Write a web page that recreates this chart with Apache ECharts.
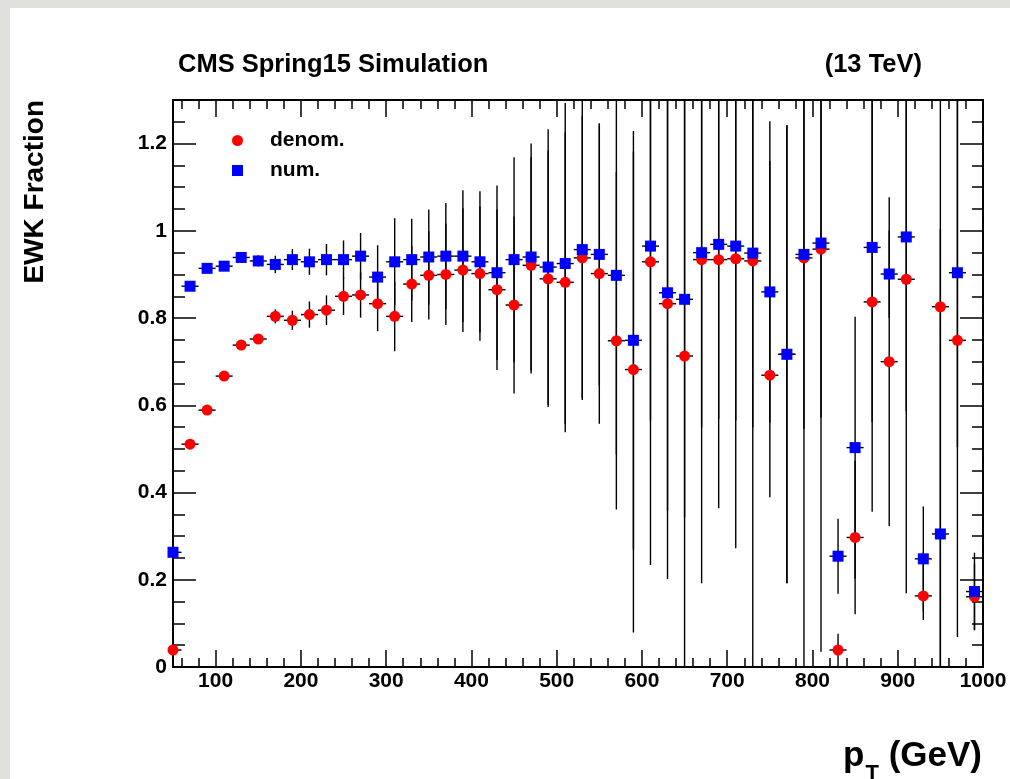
<!DOCTYPE html>
<html><head><meta charset="utf-8">
<script src="https://cdn.jsdelivr.net/npm/echarts@6/dist/echarts.min.js"></script>
<style>
html,body{margin:0;padding:0;background:#e0e0dc;width:1010px;height:779px;overflow:hidden;}
#chart{position:absolute;left:10px;top:8px;width:1000px;height:771px;background:#ffffff;}
</style></head><body><div id="chart"></div>
<script>
const ptBins = [50,70,90,110,130,150,170,190,210,230,250,270,290,310,330,350,370,390,410,430,450,470,490,510,530,550,570,590,610,630,650,670,690,710,730,750,770,790,810,830,850,870,890,910,930,950,970,990];
const denomVals = [0.039,0.511,0.589,0.667,0.738,0.752,0.804,0.795,0.808,0.818,
 0.850,0.853,0.833,0.804,0.878,0.898,0.900,0.910,0.902,0.865,
 0.830,0.921,0.890,0.882,0.938,0.902,0.748,0.682,0.929,0.833,
 0.713,0.934,0.934,0.936,0.931,0.669,0.717,0.938,0.958,0.039,
 0.297,0.837,0.700,0.889,0.163,0.826,0.749,0.161];
const denomErrLo = [0.005,0.004,0.005,0.006,0.007,0.010,0.016,0.022,0.030,0.034,
 0.043,0.052,0.063,0.080,0.087,0.101,0.116,0.142,0.154,0.184,
 0.203,0.248,0.294,0.344,0.326,0.344,0.387,0.603,0.695,0.631,
 0.720,0.742,0.570,0.664,0.940,0.280,0.525,0.950,0.923,0.040,
 0.176,0.481,0.377,0.720,0.055,0.830,0.680,0.076];
const denomErrHi = [0.005,0.004,0.005,0.006,0.007,0.010,0.016,0.022,0.030,0.034,
 0.043,0.052,0.063,0.080,0.087,0.101,0.116,0.142,0.154,0.184,
 0.203,0.248,0.294,0.344,0.326,0.344,0.387,0.500,0.400,0.500,
 0.600,0.400,0.400,0.400,0.400,0.582,0.525,0.400,0.400,0.037,
 0.176,0.500,0.377,0.420,0.100,0.500,0.560,0.076];
const numVals = [0.263,0.873,0.914,0.919,0.939,0.931,0.923,0.934,0.929,0.934,
 0.934,0.942,0.894,0.929,0.934,0.940,0.942,0.942,0.929,0.904,
 0.934,0.940,0.917,0.925,0.957,0.946,0.898,0.749,0.965,0.858,
 0.843,0.950,0.969,0.965,0.949,0.860,0.717,0.946,0.972,0.254,
 0.503,0.962,0.901,0.986,0.248,0.305,0.904,0.173];
const numErrLo = [0.005,0.004,0.004,0.004,0.005,0.013,0.020,0.024,0.030,0.036,
 0.044,0.053,0.073,0.100,0.094,0.109,0.122,0.151,0.162,0.200,
 0.235,0.260,0.316,0.368,0.340,0.300,0.410,0.480,0.400,0.500,
 0.500,0.400,0.400,0.400,0.400,0.300,0.525,0.400,0.400,0.086,
 0.300,0.400,0.100,0.400,0.120,0.310,0.400,0.089];
const numErrHi = [0.005,0.004,0.004,0.004,0.005,0.013,0.020,0.024,0.030,0.036,
 0.044,0.053,0.073,0.100,0.094,0.109,0.122,0.151,0.162,0.200,
 0.235,0.260,0.316,0.368,0.360,0.300,0.410,0.480,0.400,0.500,
 0.500,0.400,0.400,0.400,0.400,0.300,0.525,0.400,0.400,0.086,
 0.300,0.400,0.100,0.400,0.120,0.700,0.400,0.089];
const binHalfWidth = 10;
const xMajorTicks = [100,200,300,400,500,600,700,800,900,1000];
const xMinorTicks = [60,80,100,120,140,160,180,200,220,240,260,280,300,320,340,360,380,400,420,440,460,480,500,520,540,560,580,600,620,640,660,680,700,720,740,760,780,800,820,840,860,880,900,920,940,960,980,1000];
const yMajorTicks = [0,0.2,0.4,0.6,0.8,1.0,1.2];
const yMinorTicks = [0.05,0.1,0.15,0.2,0.25,0.3,0.35,0.4,0.45,0.5,0.55,0.6,0.65,0.7,0.75,0.8,0.85,0.9,0.95,1.0,1.05,1.1,1.15,1.2,1.25];
const seriesNames = ['denom.', 'num.'];

const FONT = "'Liberation Sans', Arial, Helvetica, sans-serif";
const X_MIN = 50, X_MAX = 1000, Y_MIN = 0, Y_MAX = 1.3;
const lineStyle = {color:'#000', width:2};

function xAx(pos, ticks, len, labels) {
  return {type:'value', position:pos, min:X_MIN, max:X_MAX, gridIndex:0,
    axisLine:{show:true, onZero:false, lineStyle:lineStyle},
    axisTick:{show:true, inside:true, length:len, customValues:ticks, lineStyle:{color:'#000', width:1.5}},
    axisLabel: labels ? {show:true, customValues:xMajorTicks, color:'#000', fontFamily:FONT, fontWeight:'bold', fontSize:21, margin:4,
                          formatter: v => String(v)}
                      : {show:false},
    splitLine:{show:false}, minorTick:{show:false}};
}
function yAx(pos, ticks, len, labels) {
  return {type:'value', position:pos, min:Y_MIN, max:Y_MAX, gridIndex:0,
    axisLine:{show:true, onZero:false, lineStyle:lineStyle},
    axisTick:{show:true, inside:true, length:len, customValues:ticks, lineStyle:{color:'#000', width:1.5}},
    axisLabel: labels ? {show:true, customValues:yMajorTicks, color:'#000', fontFamily:FONT, fontWeight:'bold', fontSize:21, margin:6,
                          formatter: v => String(+(+v).toFixed(2))}
                      : {show:false},
    splitLine:{show:false}, minorTick:{show:false}};
}

function errSeries(vals, lo, hi) {
  return {type:'custom', xAxisIndex:0, yAxisIndex:0, clip:true, z:1, silent:true,
    data: ptBins.map((x,i)=>[x, vals[i], lo[i], hi[i]]),
    encode:{x:0, y:1},
    renderItem(params, api){
      const x=api.value(0), v=api.value(1), l=api.value(2), h=api.value(3);
      const a=api.coord([x, v-l]), b=api.coord([x, v+h]);
      const c=api.coord([x-binHalfWidth, v]), d=api.coord([x+binHalfWidth, v]);
      const st = {stroke:'#000', lineWidth:1.4};
      return {type:'group', children:[
        {type:'line', shape:{x1:a[0],y1:a[1],x2:b[0],y2:b[1]}, style:st},
        {type:'line', shape:{x1:c[0],y1:c[1],x2:d[0],y2:d[1]}, style:st}]};
    }};
}

const chart = echarts.init(document.getElementById('chart'), null, {renderer:'canvas'});
chart.setOption({
  animation:false,
  backgroundColor:'#ffffff',
  title:[
    {text:'CMS Spring15 Simulation', left:168, top:44, textStyle:{fontFamily:FONT, fontWeight:'bold', fontSize:25.5, color:'#000', lineHeight:26}, padding:0},
    {text:'(13 TeV)', right:88, top:44, textStyle:{fontFamily:FONT, fontWeight:'bold', fontSize:25.5, color:'#000', lineHeight:26}, padding:0},
    {text:'{p|p}{s|T}{g| (GeV)}', right:28, top:731, padding:0,
     textStyle:{rich:{
       p:{fontFamily:FONT, fontWeight:'bold', fontSize:35, color:'#000', lineHeight:36, verticalAlign:'top'},
       s:{fontFamily:FONT, fontWeight:'bold', fontSize:22, color:'#000', lineHeight:36, verticalAlign:'top', padding:[24,0,0,1]},
       g:{fontFamily:FONT, fontWeight:'bold', fontSize:35, color:'#000', lineHeight:36, verticalAlign:'top'}}}}
  ],
  graphic:[{type:'text', x:25, y:92, rotation:Math.PI/2,
    style:{text:'EWK Fraction', font:"bold 28px 'Liberation Sans', Arial, sans-serif", fill:'#000', textAlign:'right', textVerticalAlign:'middle'}}],
  legend:{data:seriesNames, orient:'vertical', left:217, top:117, itemWidth:11, itemHeight:11, itemGap:9,
    textStyle:{fontFamily:FONT, fontWeight:'bold', fontSize:21, color:'#000', lineHeight:21, padding:[0,0,0,22]}},
  grid:{left:163, right:27, top:92, bottom:112, containLabel:false},
  xAxis:[xAx('bottom', xMinorTicks, 9, false), xAx('bottom', xMajorTicks, 17, true),
         xAx('top', xMinorTicks, 9, false), xAx('top', xMajorTicks, 17, false)],
  yAxis:[yAx('left', yMinorTicks, 12, false), yAx('left', yMajorTicks, 23, true),
         yAx('right', yMinorTicks, 11, false), yAx('right', yMajorTicks, 23, false)],
  series:[
    errSeries(denomVals, denomErrLo, denomErrHi),
    errSeries(numVals, numErrLo, numErrHi),
    {name:seriesNames[0], type:'scatter', xAxisIndex:0, yAxisIndex:0, symbol:'circle', symbolSize:11, clip:false, z:3,
     itemStyle:{color:'#ff0000', opacity:1}, data: ptBins.map((x,i)=>[x, denomVals[i]])},
    {name:seriesNames[1], type:'scatter', xAxisIndex:0, yAxisIndex:0, symbol:'rect', symbolSize:11, clip:false, z:4,
     itemStyle:{color:'#0000ff', opacity:1}, data: ptBins.map((x,i)=>[x, numVals[i]])}
  ]
});
</script></body></html>
